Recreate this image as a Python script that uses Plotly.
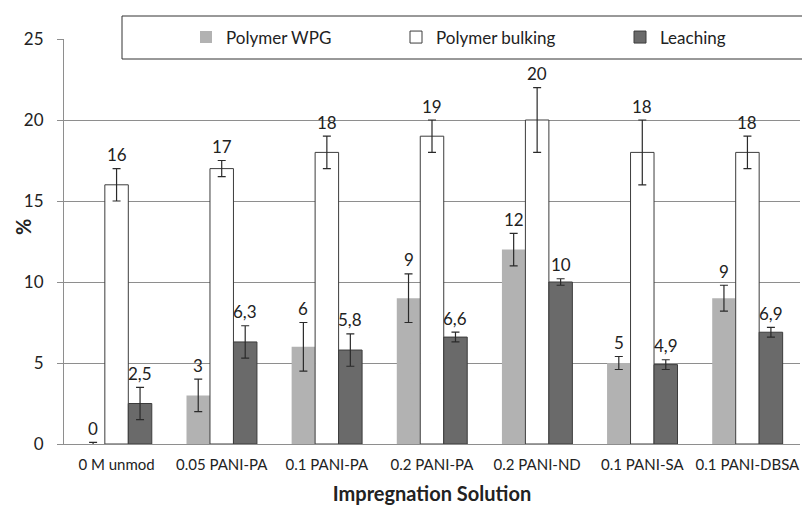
import plotly.graph_objects as go

# Impregnation solutions (x categories)
categories = ["0 M unmod", "0.05 PANI-PA", "0.1 PANI-PA", "0.2 PANI-PA",
              "0.2 PANI-ND", "0.1 PANI-SA", "0.1 PANI-DBSA"]

# Mean values (%) per series
wpg = [0, 3, 6, 9, 12, 5, 9]
bulking = [16, 17, 18, 19, 20, 18, 18]
leaching = [2.5, 6.3, 5.8, 6.6, 10, 4.9, 6.9]

# Standard deviations (%) per series
wpg_err = [0.1, 1.0, 1.5, 1.5, 1.0, 0.4, 0.8]
bulking_err = [1.0, 0.5, 1.0, 1.0, 2.0, 2.0, 1.0]
leaching_err = [1.0, 1.0, 1.0, 0.3, 0.2, 0.3, 0.3]

y_ticks = [0, 5, 10, 15, 20, 25]

FONT = "Lato"
TXT = "#222222"
EDGE = "#3c3c3c"
GRID = "#8e8e8e"

W, H = 802, 505
M_L, M_R, M_T, M_B = 64, 2, 39, 61
BARGAP = 0.33
plot_w = W - M_L - M_R
plot_h = H - M_T - M_B


def px_x(px):
    """Pixel column -> paper x."""
    return (px - M_L) / plot_w


def px_y(px):
    """Pixel row -> paper y."""
    return (H - M_B - px) / plot_h


series = [
    ("Polymer WPG", wpg, wpg_err, "#b2b2b2", "#b2b2b2", 0, "legend", 186),
    ("Polymer bulking", bulking, bulking_err, "#ffffff", EDGE, 1, "legend2", 396),
    ("Leaching", leaching, leaching_err, "#6a6a6a", EDGE, 1, "legend3", 620),
]

fig = go.Figure()
for name, vals, errs, fill, line, lw, leg, _lx in series:
    fig.add_trace(go.Bar(
        name=name, x=categories, y=vals, legend=leg,
        marker=dict(color=fill, line=dict(color=line, width=lw)),
        error_y=dict(type="data", array=errs, visible=True,
                     color="#2a2a2a", thickness=1.2, width=4),
    ))


def fmt(v):
    return f"{v:g}".replace(".", ",")


# value labels above each error bar, offset sideways to the bar in its group
group_px = plot_w / len(categories)
bar_px = group_px * (1 - BARGAP) / len(series)
annotations = []
for k, (name, vals, errs, *_rest) in enumerate(series):
    dx = (k - (len(series) - 1) / 2) * bar_px
    for cat, v, e in zip(categories, vals, errs):
        annotations.append(dict(
            x=cat, y=v + e, xref="x", yref="y", text=fmt(v),
            showarrow=False, xshift=dx, yshift=14, yanchor="middle",
            font=dict(family=FONT, size=17, color=TXT),
        ))

# y-axis title
annotations.append(dict(
    x=px_x(23), y=px_y(227), xref="paper", yref="paper", text="<b>%</b>",
    textangle=-90, showarrow=False, xanchor="center", yanchor="middle",
    font=dict(family=FONT, size=20, color=TXT),
))

legend_common = dict(
    orientation="h", yanchor="middle", xanchor="left",
    bgcolor="rgba(0,0,0,0)", borderwidth=0,
    font=dict(family=FONT, size=17, color=TXT),
)
legends = {}
for name, *_mid, leg, lx in series:
    legends[leg] = dict(legend_common, x=px_x(lx), y=px_y(37.5))

fig.update_layout(
    width=W, height=H,
    margin=dict(l=M_L, r=M_R, t=M_T, b=M_B, pad=0, autoexpand=False),
    paper_bgcolor="white", plot_bgcolor="white",
    barmode="group", bargap=BARGAP, bargroupgap=0,
    font=dict(family=FONT, color=TXT),
    annotations=annotations,
    showlegend=True,
    **legends,
    shapes=[dict(
        type="rect", xref="paper", yref="paper",
        x0=px_x(122), x1=px_x(820),
        y0=px_y(59), y1=px_y(16),
        line=dict(color="#333333", width=1), fillcolor="white", layer="above",
    )],
    xaxis=dict(
        title=dict(text="<b>Impregnation Solution</b>", standoff=15,
                   font=dict(family=FONT, size=20, color=TXT)),
        tickfont=dict(family=FONT, size=15, color=TXT),
        showline=True, linecolor=GRID, linewidth=1,
        ticks="", showgrid=False, ticklabelstandoff=7,
    ),
    yaxis=dict(
        range=[0, 25], tickvals=y_ticks,
        tickfont=dict(family=FONT, size=17, color=TXT),
        showgrid=True, gridcolor=GRID, gridwidth=1,
        showline=True, linecolor=GRID, linewidth=1,
        ticks="outside", ticklen=6, tickcolor=GRID,
        zeroline=False, ticklabelstandoff=10,
    ),
)

fig.write_html("out.html")
